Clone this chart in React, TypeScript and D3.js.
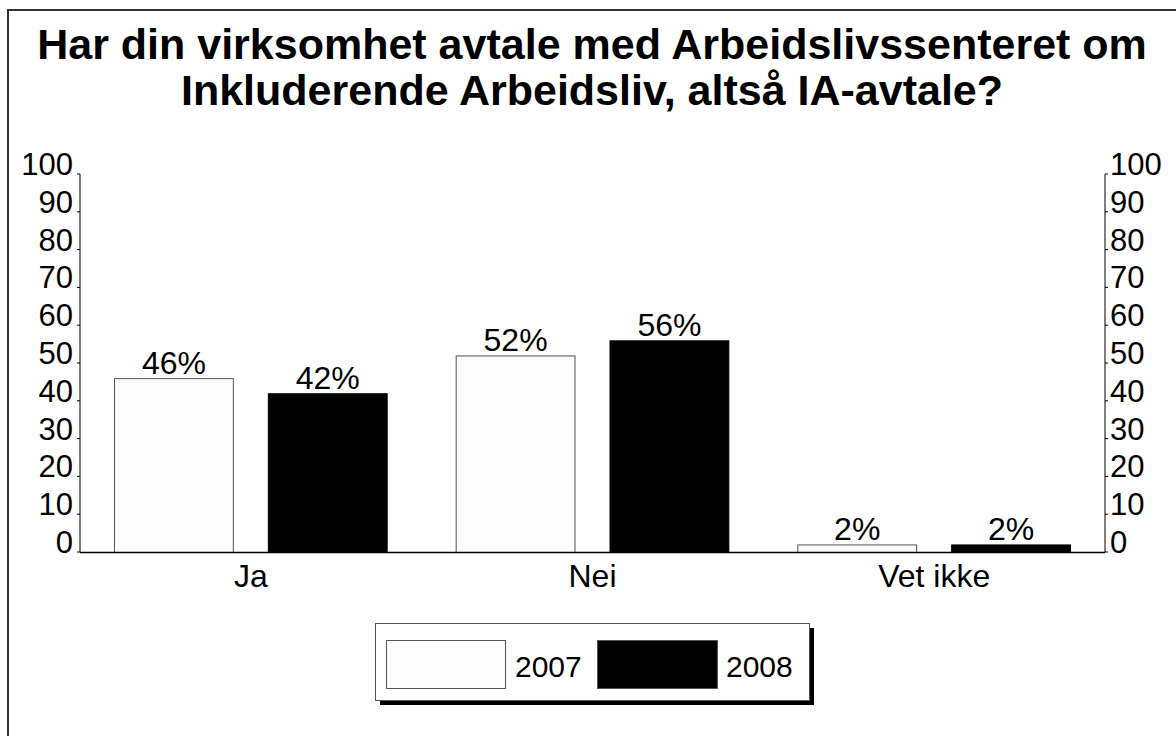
import React from 'react';
import * as d3 from 'd3';

const categories = ['Ja', 'Nei', 'Vet ikke'];
const years = ['2007', '2008'];
const values2007 = [46, 52, 2];
const values2008 = [42, 56, 2];
const yTicks = [0, 10, 20, 30, 40, 50, 60, 70, 80, 90, 100];
const titleLines = [
  'Har din virksomhet avtale med Arbeidslivssenteret om',
  'Inkluderende Arbeidsliv, altså IA-avtale?',
];

const W = 1176;
const H = 736;
const left = 80;
const right = 1105;
const top = 174;
const bottom = 552;
const font = '"Liberation Sans", Arial, sans-serif';

const fills: Record<string, string> = { '2007': '#fcfcfc', '2008': '#000' };
const strokes: Record<string, string> = { '2007': '#555', '2008': '#000' };

export default function App() {
  const x = d3.scaleBand<string>().domain(categories).range([left, right]).padding(0);
  const x1 = d3
    .scaleBand<string>()
    .domain(years)
    .range([0, x.bandwidth()])
    .paddingInner(0.221)
    .paddingOuter(0.221);
  const y = d3.scaleLinear().domain([0, 100]).range([bottom, top]);

  const series = [
    { year: '2007', values: values2007 },
    { year: '2008', values: values2008 },
  ];

  return (
    <svg
      width={W}
      height={H}
      style={{ position: 'absolute', left: 0, top: 0, background: '#fff' }}
      fontFamily={font}
    >
      <rect x={8} y={10} width={1300} height={900} fill="#fff" stroke="#333" strokeWidth={2} />

      {titleLines.map((t, i) => (
        <text key={t} x={592} y={59 + i * 46} textAnchor="middle" fontSize={43} fontWeight="bold">
          {t}
        </text>
      ))}

      {/* left axis */}
      <line x1={left} x2={left} y1={y(100)} y2={y(0)} stroke="#000" />
      {yTicks.map((t) => (
        <g key={'l' + t}>
          <line x1={left - 3} x2={left} y1={y(t)} y2={y(t)} stroke="#000" />
          <text x={left - 7} y={y(t) + 1} textAnchor="end" fontSize={31}>
            {t}
          </text>
        </g>
      ))}

      {/* right axis */}
      <line x1={right} x2={right} y1={y(100)} y2={y(0)} stroke="#000" />
      {yTicks.map((t) => (
        <g key={'r' + t}>
          <line x1={right} x2={right + 3} y1={y(t)} y2={y(t)} stroke="#000" />
          <text x={right + 5} y={y(t) + 1} textAnchor="start" fontSize={31}>
            {t}
          </text>
        </g>
      ))}

      {/* bars */}
      {series.map((s) =>
        s.values.map((v, i) => {
          const bx = (x(categories[i]) ?? 0) + (x1(s.year) ?? 0);
          return (
            <g key={s.year + i}>
              <rect
                x={bx + 0.5}
                y={y(v) + 0.5}
                width={x1.bandwidth() - 1}
                height={y(0) - y(v)}
                fill={fills[s.year]}
                stroke={strokes[s.year]}
              />
              <text x={bx + x1.bandwidth() / 2} y={y(v) - 4} textAnchor="middle" fontSize={32}>
                {v}%
              </text>
            </g>
          );
        })
      )}

      <line x1={left} x2={right} y1={y(0) + 0.5} y2={y(0) + 0.5} stroke="#000" strokeWidth={1.5} />

      {categories.map((c) => (
        <text
          key={c}
          x={(x(c) ?? 0) + x.bandwidth() / 2}
          y={587}
          textAnchor="middle"
          fontSize={32}
        >
          {c}
        </text>
      ))}

      {/* legend */}
      <rect x={380} y={628} width={434} height={77} fill="#000" />
      <rect x={375.5} y={623.5} width={434} height={77} fill="#fff" stroke="#555" />
      <rect x={386.5} y={640.5} width={119} height={48} fill={fills['2007']} stroke="#555" />
      <text x={515} y={677} fontSize={30}>
        2007
      </text>
      <rect x={597.5} y={640.5} width={120} height={48} fill={fills['2008']} stroke="#555" />
      <text x={726} y={677} fontSize={30}>
        2008
      </text>
    </svg>
  );
}
